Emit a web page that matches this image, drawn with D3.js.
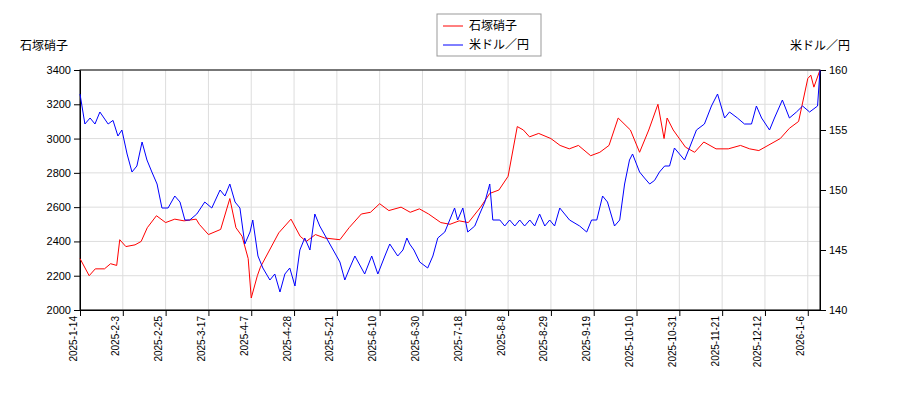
<!DOCTYPE html>
<html><head><meta charset="utf-8">
<script src="https://cdn.jsdelivr.net/npm/d3@7"></script>
<style>body{margin:0;background:#fff;font-family:"Noto Sans CJK JP","DejaVu Sans",sans-serif}</style>
</head><body><div id="chart"></div>
<script>
const tickLabels = ["2025-1-14","2025-2-3","2025-2-25","2025-3-17","2025-4-7","2025-4-28","2025-5-21","2025-6-10","2025-6-30","2025-7-18","2025-8-8","2025-8-29","2025-9-19","2025-10-10","2025-10-31","2025-11-21","2025-12-12","2026-1-6"];
const tickDays = tickLabels.map((d, i) => i * 14);
// trading-day index and values
const stockDay = [0,3,5,8,10,12,13,15,18,20,22,25,28,31,34,38,39,42,46,49,51,53,55,56,58,59,62,65,69,72,74,77,80,85,88,92,95,98,101,105,108,111,114,118,121,124,127,131,134,137,140,143,145,147,150,154,157,160,163,167,170,173,176,180,183,186,189,191,192,194,198,201,204,208,212,216,219,222,225,229,232,235,238,239,240,242];
const stockVal = [2300,2200,2240,2240,2270,2260,2410,2370,2380,2400,2480,2550,2510,2530,2520,2530,2500,2440,2470,2650,2480,2430,2300,2070,2200,2250,2350,2450,2530,2430,2400,2440,2420,2410,2480,2560,2570,2620,2580,2600,2570,2590,2560,2510,2500,2520,2510,2600,2680,2700,2780,3070,3050,3010,3030,3000,2960,2940,2960,2900,2920,2960,3120,3050,2920,3050,3200,3000,3120,3050,2950,2920,2980,2940,2940,2960,2940,2930,2960,3000,3060,3100,3350,3370,3300,3400];
const usdDay = [0,1.6,3.3,4.9,6.5,9.2,10.8,12.4,13.7,15.4,17,18.6,20.3,21.9,23.5,25.2,26.8,28.8,31,32.7,34.3,35.9,38.2,40.8,43.1,45.8,47.4,49,50.7,52.3,53.9,55.6,56.5,58.2,59.8,62.1,63.7,65.4,67,68.6,70.3,71.9,73.5,75.2,76.8,78.4,81.7,85,86.6,88.2,89.9,93.1,95.4,97.4,99.7,101.3,103.9,105.6,106.9,107.8,109.2,111.1,113.7,115.4,117,119.3,120.9,122.5,123.5,125.2,126.8,129.1,130.7,132.4,134,135,137.3,138.9,140.5,142.2,143.8,145.4,147.1,148.7,150.3,152,153.6,155.2,156.9,158.5,160.1,163.4,165.7,167.3,169,170.9,172.5,174.8,176.5,178.1,179.7,180.7,183,184.6,186.3,187.9,189.5,191.2,192.8,194.4,197.7,199.3,201.6,204.2,206.5,208.5,210.8,212.4,215,217.3,219.6,221.2,222.9,225.5,227.1,229.7,232,234.3,236.3,238.6,241.2,242];
const usdVal = [158,155.5,156,155.5,156.5,155.5,155.8,154.5,155,153,151.5,152,154,152.5,151.5,150.5,148.5,148.5,149.5,149,147.5,147.5,148,149,148.5,150,149.5,150.5,149,148.5,145.5,146.5,147.5,144.5,143.5,142.5,143,141.5,143,143.5,142,145,146,145,148,147,145.5,144,142.5,143.5,144.5,143,144.5,143,144.5,145.5,144.5,145,146,145.5,145,144,143.5,144.5,146,146.5,147.5,148.5,147.5,148.5,146.5,147,148,149,150.5,147.5,147.5,147,147.5,147,147.5,147,147.5,147,148,147,147.5,147,148.5,148,147.5,147,146.5,147.5,147.5,149.5,149,147,147.5,150.5,152.5,153,151.5,151,150.5,150.8,151.5,152,152,153.5,152.5,153.5,155,155.5,157,158,156,156.5,156,155.5,155.5,157,156,155,156,157.5,156,156.5,157,156.5,157,160];

const W = 900, H = 400, m = {top: 70, right: 80, bottom: 90, left: 80};
const svg = d3.select("#chart").append("svg").attr("width", W).attr("height", H);
const x = d3.scaleLinear().domain([0, 242]).range([m.left, W - m.right]);
const yL = d3.scaleLinear().domain([2000, 3400]).range([H - m.bottom, m.top]);
const yR = d3.scaleLinear().domain([140, 160]).range([H - m.bottom, m.top]);

const g = svg.append("g");
g.selectAll(".gx").data(tickDays).enter().append("line")
  .attr("x1", d => x(d)).attr("x2", d => x(d)).attr("y1", m.top).attr("y2", H - m.bottom)
  .attr("stroke", "#ddd");
g.selectAll(".gy").data(d3.range(2000, 3401, 200)).enter().append("line")
  .attr("x1", m.left).attr("x2", W - m.right).attr("y1", d => yL(d)).attr("y2", d => yL(d))
  .attr("stroke", "#ddd");

const xAxis = svg.append("g").attr("transform", "translate(0," + (H - m.bottom) + ")")
  .call(d3.axisBottom(x).tickValues(tickDays).tickFormat((d, i) => tickLabels[i]).tickSizeOuter(0));
xAxis.selectAll("text").attr("transform", "rotate(-90)").attr("text-anchor", "end")
  .attr("dx", "-0.6em").attr("dy", "-0.4em").attr("x", 0).attr("y", 0).style("font-size", "10px");
svg.append("g").attr("transform", "translate(" + m.left + ",0)")
  .call(d3.axisLeft(yL).tickValues(d3.range(2000, 3401, 200)).tickFormat(d3.format("d")).tickSizeOuter(0))
  .selectAll("text").style("font-size", "11px");
svg.append("g").attr("transform", "translate(" + (W - m.right) + ",0)")
  .call(d3.axisRight(yR).tickValues([140, 145, 150, 155, 160]).tickSizeOuter(0))
  .selectAll("text").style("font-size", "11px");
svg.append("rect").attr("x", m.left).attr("y", m.top).attr("width", W - m.left - m.right)
  .attr("height", H - m.top - m.bottom).attr("fill", "none").attr("stroke", "#000");

svg.append("path").datum(stockDay.map((d, i) => [d, stockVal[i]]))
  .attr("fill", "none").attr("stroke", "red").attr("stroke-width", 1)
  .attr("d", d3.line().x(d => x(d[0])).y(d => yL(d[1])));
svg.append("path").datum(usdDay.map((d, i) => [d, usdVal[i]]))
  .attr("fill", "none").attr("stroke", "blue").attr("stroke-width", 1)
  .attr("d", d3.line().x(d => x(d[0])).y(d => yR(d[1])));

svg.append("text").attr("x", 20).attr("y", 50).style("font-size", "12px").text("石塚硝子");
svg.append("text").attr("x", 850).attr("y", 50).attr("text-anchor", "end").style("font-size", "12px").text("米ドル／円");

const lg = svg.append("g").attr("transform", "translate(437,14)");
lg.append("rect").attr("width", 104).attr("height", 42).attr("fill", "#fff").attr("stroke", "#999");
[["石塚硝子", "red"], ["米ドル／円", "blue"]].forEach(([t, c], i) => {
  lg.append("line").attr("x1", 6).attr("x2", 26).attr("y1", 12 + i * 19).attr("y2", 12 + i * 19).attr("stroke", c);
  lg.append("text").attr("x", 32).attr("y", 16 + i * 19).style("font-size", "12px").text(t);
});
</script></body></html>
